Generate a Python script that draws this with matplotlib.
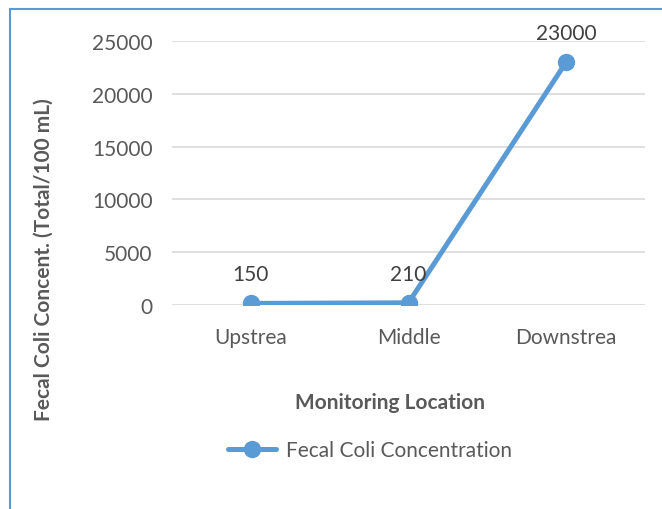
import matplotlib
matplotlib.use("Agg")
import matplotlib.pyplot as plt
from matplotlib.lines import Line2D

locations = ["Upstrea", "Middle", "Downstrea"]
values = [150, 210, 23000]
yticks = [0, 5000, 10000, 15000, 20000, 25000]

blue = "#5B9BD5"
grey_txt = "#595959"

plt.rcParams['font.family'] = ['Lato', 'DejaVu Sans']

fig = plt.figure(figsize=(6.62, 5.10), dpi=100)
ax = fig.add_axes([172 / 662, 1 - 306 / 510, (645 - 172) / 662, (306 - 42) / 510])

x = list(range(len(locations)))
ax.plot(x, values, color=blue, linewidth=3.6, marker="o", markersize=11.5,
        label="Fecal Coli Concentration", solid_capstyle="round", zorder=3)
for xi, v in zip(x, values):
    ax.annotate(str(v), (xi, v), xytext=(0, 21), textcoords="offset points",
                ha="center", va="center", fontsize=15, color="#404040")

ax.set_xlim(-0.5, len(locations) - 0.5)
ax.set_ylim(0, 25000)
ax.set_yticks(yticks)
ax.set_yticklabels([str(t) for t in yticks], fontsize=15, color=grey_txt)
ax.set_xticks(x)
ax.set_xticklabels(locations, fontsize=15, color=grey_txt)
ax.tick_params(length=0, pad=14)
ax.tick_params(axis="x", pad=16)
ax.grid(axis="y", color="#D9D9D9", linewidth=1.2)
ax.set_axisbelow(True)
for s in ax.spines.values():
    s.set_visible(False)

ax.set_ylabel("Fecal Coli Concent. (Total/100 mL)", fontsize=15, fontweight="bold",
              color=grey_txt)
ax.yaxis.set_label_coords(-0.25, 0.174)
ax.set_xlabel("Monitoring Location", fontsize=15, fontweight="bold", color=grey_txt)
ax.xaxis.set_label_coords(0.46, -0.33)

fig.legend(loc="center", bbox_to_anchor=(370 / 662, 1 - 451 / 510), frameon=False,
           fontsize=15, labelcolor=grey_txt, handlelength=2.3, handletextpad=0.45)

# chart border (left and top visible)
fig.add_artist(Line2D([10 / 662, 10 / 662], [0, 1 - 10 / 510], color=blue, linewidth=1.5,
                      transform=fig.transFigure))
fig.add_artist(Line2D([10 / 662, 1], [1 - 10 / 510, 1 - 10 / 510], color=blue, linewidth=1.5,
                      transform=fig.transFigure))

fig.savefig("out.png", dpi=100)
